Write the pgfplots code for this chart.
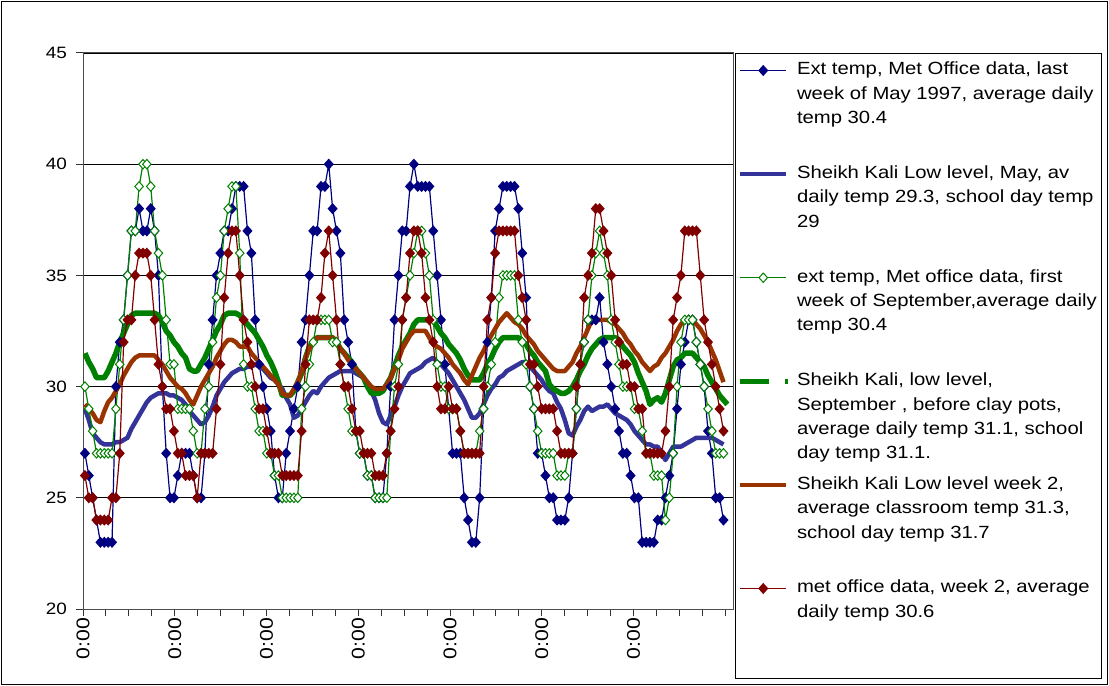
\documentclass[border=0pt]{standalone}
\usepackage{fontspec}
\setmainfont{Liberation Sans}[FakeStretch=1.15]
\usepackage{pgfplots}
\pgfplotsset{compat=1.18}
\definecolor{cBlue}{RGB}{0,0,128}
\definecolor{cPurple}{RGB}{51,51,153}
\definecolor{cGreen}{RGB}{0,128,0}
\definecolor{cOrange}{RGB}{153,51,0}
\definecolor{cRed}{RGB}{128,0,0}
\newcommand{\lent}[2]{\parbox[b][#1][t]{302bp}{\raggedright\fontsize{17.7}{24.5}\selectfont #2}}
\pgfplotsset{
 legmark/.style={legend image code/.code={\draw[mark repeat=2,mark phase=2,##1] plot coordinates {(0bp,#1) (23bp,#1) (46bp,#1)}; \path (0bp,-#1);}},
 legline/.style={legend image code/.code={\draw[##1] (0bp,#1) -- (46bp,#1); \path (0bp,-#1);}},
 leggap/.style={legend image code/.code={\draw[##1] (0bp,#1) -- (29bp,#1); \draw[##1] (45bp,#1) -- (48bp,#1); \path (0bp,-#1);}},
}
\begin{document}
\begin{tikzpicture}
\useasboundingbox (0bp,0bp) rectangle (1109bp,686bp);
\draw[black, line width=1bp] (1.5bp,1.5bp) rectangle (1107.5bp,684.5bp);
\begin{axis}[
 at={(83bp,77bp)}, anchor=south west,
 scale only axis, width=650bp, height=556bp,
 xmin=-0.5, xmax=167.46, ymin=20, ymax=45,
 ytick={20,25,...,45},
 xtick={-0.5,23.21,46.92,70.63,94.34,118.05,141.76},
 xticklabels={0:00,0:00,0:00,0:00,0:00,0:00,0:00},
 minor xtick={-0.5,5.428,...,166},
 tick align=outside, tick pos=left,
 major tick length=7bp, minor tick length=7bp,
 tick style={black!80, line width=1bp},
 ymajorgrids, grid style={black, line width=0.8bp},
 axis line style={black!70, line width=1bp},
 xticklabel style={rotate=90, anchor=east, inner sep=2bp, font=\fontsize{18.5}{22}\selectfont},
 yticklabel style={anchor=east, inner sep=0pt, xshift=-9bp, font=\fontsize{16.5}{20}\selectfont},
 /pgf/number format/assume math mode=true,
 legend style={at={(1,1)}, anchor=north west, xshift=2bp, draw=black, line width=1bp, fill=white,
   inner xsep=2bp, inner ysep=8.6bp, nodes={inner sep=0pt, text depth=0pt},
   cells={anchor=center}, column sep=6bp, row sep=0pt},
]
\addplot[cBlue, line width=1.2bp, mark=diamond*, mark size=4.7bp, mark options={xscale=1.2, fill=cBlue, solid}, legmark=43.4bp]
coordinates {(0,27)(1,26)(2,25)(3,24)(4,23)(5,23)(6,23)(7,23)(8,30)(9,32)(10,33)(11,35)(12,37)(13,37)(14,38)(15,37)(16,37)(17,38)(18,37)(19,35)(20,30)(21,27)(22,25)(23,25)
(24,26)(25,27)(26,27)(27,27)(28,26)(29,25)(30,25)(31,27)(32,31)(33,33)(34,35)(35,36)(36,37)(37,37)(38,38)(39,39)(40,39)(41,39)(42,37)(43,36)(44,33)(45,31)(46,30)(47,29)
(48,28)(49,26)(50,25)(51,25)(52,27)(53,28)(54,29)(55,30)(56,32)(57,33)(58,35)(59,37)(60,37)(61,39)(62,39)(63,40)(64,38)(65,37)(66,36)(67,33)(68,32)(69,31)(70,28)(71,27)
(72,27)(73,26)(74,26)(75,25)(76,25)(77,25)(78,27)(79,30)(80,33)(81,35)(82,37)(83,37)(84,39)(85,40)(86,39)(87,39)(88,39)(89,39)(90,37)(91,35)(92,33)(93,31)(94,29)(95,27)
(96,27)(97,27)(98,25)(99,24)(100,23)(101,23)(102,25)(103,29)(104,32)(105,34)(106,37)(107,38)(108,39)(109,39)(110,39)(111,39)(112,38)(113,36)(114,34)(115,30)(116,29)(117,27)(118,27)(119,26)
(120,25)(121,25)(122,24)(123,24)(124,24)(125,25)(126,27)(127,29)(128,31)(129,32)(130,33)(131,33)(132,33)(133,34)(134,32)(135,31)(136,30)(137,29)(138,28)(139,27)(140,27)(141,26)(142,25)(143,25)
(144,23)(145,23)(146,23)(147,23)(148,24)(149,24)(150,25)(151,26)(152,27)(153,29)(154,31)(155,32)(156,33)(157,33)(158,32)(159,31)(160,30)(161,28)(162,27)(163,25)(164,25)(165,24)};
\addlegendentry{\lent{103.6bp}{Ext temp, Met Office data, last\\week of May 1997, average daily\\temp 30.4}}
\addplot[cPurple, line width=4.5bp, line join=round, legline=43.4bp]
coordinates {(0,29.0)(1,28.5)(2,27.9)(3,27.7)(4,27.5)(5,27.4)(6,27.4)(7,27.4)(8,27.5)(9,27.5)(10,27.6)(11,27.7)(12,28.1)(13,28.4)(14,28.7)(15,29.0)(16,29.3)(17,29.5)(18,29.6)(19,29.7)(20,29.7)(21,29.7)(22,29.6)(23,29.6)
(24,29.5)(25,29.4)(26,29.2)(27,28.9)(28,28.7)(29,28.5)(30,28.3)(31,28.4)(32,28.7)(33,29.1)(34,29.6)(35,29.9)(36,30.2)(37,30.4)(38,30.6)(39,30.7)(40,30.8)(41,30.8)(42,30.9)(43,30.9)(44,31.0)(45,30.9)(46,30.8)(47,30.6)
(48,30.4)(49,30.3)(50,30.1)(51,29.9)(52,29.5)(53,29.2)(54,28.6)(55,28.7)(56,29.0)(57,29.3)(58,29.6)(59,29.8)(60,29.7)(61,30.0)(62,30.2)(63,30.4)(64,30.5)(65,30.6)(66,30.7)(67,30.7)(68,30.7)(69,30.7)(70,30.6)(71,30.5)
(72,30.4)(73,30.2)(74,29.8)(75,29.4)(76,28.8)(77,28.4)(78,28.3)(79,28.7)(80,29.1)(81,29.6)(82,30.0)(83,30.3)(84,30.6)(85,30.7)(86,30.8)(87,30.9)(88,31.1)(89,31.2)(90,31.3)(91,31.1)(92,31.0)(93,30.8)(94,30.6)(95,30.3)
(96,30.0)(97,29.7)(98,29.4)(99,29.0)(100,28.6)(101,28.6)(102,28.8)(103,29.2)(104,29.6)(105,29.9)(106,30.1)(107,30.4)(108,30.5)(109,30.7)(110,30.8)(111,30.9)(112,31.0)(113,31.1)(114,31.1)(115,30.9)(116,30.7)(117,30.5)(118,30.3)(119,30.0)
(120,29.8)(121,29.7)(122,29.3)(123,29.0)(124,28.5)(125,27.9)(126,27.8)(127,28.2)(128,28.5)(129,28.9)(130,29.1)(131,28.9)(132,29.0)(133,29.1)(134,29.1)(135,29.2)(136,29.0)(137,28.8)(138,28.7)(139,28.6)(140,28.5)(141,28.3)(142,28.0)(143,27.8)
(144,27.6)(145,27.4)(146,27.4)(147,27.3)(148,27.3)(149,27.0)(150,26.7)(151,27.0)(152,27.3)(153,27.3)(154,27.3)(155,27.4)(156,27.5)(157,27.6)(158,27.7)(159,27.7)(160,27.7)(161,27.7)(162,27.7)(163,27.6)(164,27.5)(165,27.4)};
\addlegendentry{\lent{103.6bp}{Sheikh Kali Low level, May, av\\daily temp 29.3, school day temp\\29}}
\addplot[cGreen, line width=1.2bp, mark=diamond*, mark size=4.7bp, mark options={xscale=1.2, fill=white, draw=cGreen, line width=1bp, solid}, legmark=43.4bp]
coordinates {(0,30)(1,29)(2,28)(3,27)(4,27)(5,27)(6,27)(7,27)(8,29)(9,31)(10,33)(11,35)(12,37)(13,37)(14,39)(15,40)(16,40)(17,39)(18,37)(19,36)(20,35)(21,33)(22,31)(23,31)
(24,29)(25,29)(26,29)(27,29)(28,28)(29,27)(30,27)(31,29)(32,30)(33,32)(34,34)(35,35)(36,37)(37,38)(38,39)(39,39)(40,36)(41,31)(42,30)(43,30)(44,29)(45,28)(46,28)(47,27)
(48,27)(49,26)(50,26)(51,25)(52,25)(53,25)(54,25)(55,25)(56,29)(57,30)(58,31)(59,32)(60,33)(61,33)(62,33)(63,33)(64,32)(65,32)(66,31)(67,30)(68,29)(69,28)(70,28)(71,27)
(72,27)(73,26)(74,26)(75,25)(76,25)(77,25)(78,25)(79,28)(80,30)(81,31)(82,33)(83,34)(84,35)(85,36)(86,37)(87,37)(88,36)(89,35)(90,33)(91,31)(92,30)(93,30)(94,29)(95,29)
(96,29)(97,28)(98,27)(99,27)(100,27)(101,27)(102,28)(103,29)(104,30)(105,31)(106,32)(107,34)(108,35)(109,35)(110,35)(111,35)(112,33)(113,32)(114,31)(115,30)(116,29)(117,28)(118,27)(119,27)
(120,27)(121,27)(122,26)(123,26)(124,26)(125,27)(126,27)(127,29)(128,31)(129,32)(130,33)(131,35)(132,36)(133,37)(134,36)(135,35)(136,33)(137,32)(138,31)(139,30)(140,30)(141,30)(142,29)(143,29)
(144,28)(145,27)(146,27)(147,26)(148,26)(149,26)(150,24)(151,25)(152,27)(153,30)(154,32)(155,33)(156,33)(157,33)(158,32)(159,31)(160,30)(161,29)(162,28)(163,27)(164,27)(165,27)};
\addlegendentry{\lent{103.6bp}{ext temp, Met office data, first\\week of September,average daily\\temp 30.4}}
\addplot[cGreen, line width=5.5bp, line join=round, leggap=43.4bp]
coordinates {(0,31.5)(1,31.1)(2,30.8)(3,30.4)(4,30.4)(5,30.4)(6,30.7)(7,31.1)(8,31.5)(9,32.0)(10,32.4)(11,32.8)(12,33.2)(13,33.3)(14,33.3)(15,33.3)(16,33.3)(17,33.3)(18,33.3)(19,33.2)(20,32.9)(21,32.5)(22,32.3)(23,32.0)
(24,31.8)(25,31.5)(26,31.3)(27,30.8)(28,30.7)(29,30.7)(30,31.0)(31,31.3)(32,31.7)(33,32.1)(34,32.5)(35,32.8)(36,33.2)(37,33.3)(38,33.3)(39,33.3)(40,33.2)(41,33.0)(42,32.8)(43,32.6)(44,32.4)(45,32.1)(46,31.8)(47,31.4)
(48,31.1)(49,30.7)(50,30.2)(51,29.6)(52,29.6)(53,29.6)(54,29.8)(55,30.2)(56,30.6)(57,31.3)(58,31.8)(59,32.0)(60,32.2)(61,32.2)(62,32.2)(63,32.2)(64,32.2)(65,32.0)(66,31.7)(67,31.5)(68,31.3)(69,31.1)(70,30.8)(71,30.6)
(72,30.4)(73,30.0)(74,29.7)(75,29.7)(76,29.7)(77,29.8)(78,30.1)(79,30.4)(80,30.9)(81,31.4)(82,31.8)(83,32.1)(84,32.4)(85,32.8)(86,33.0)(87,33.0)(88,33.0)(89,33.0)(90,33.0)(91,32.7)(92,32.4)(93,32.2)(94,31.9)(95,31.7)
(96,31.5)(97,31.2)(98,30.8)(99,30.5)(100,30.3)(101,30.3)(102,30.3)(103,30.6)(104,31.0)(105,31.3)(106,31.7)(107,32.0)(108,32.2)(109,32.2)(110,32.2)(111,32.2)(112,32.2)(113,32.0)(114,31.9)(115,31.6)(116,31.4)(117,31.1)(118,30.9)(119,30.7)
(120,30.1)(121,29.9)(122,29.8)(123,29.7)(124,29.7)(125,29.8)(126,30.0)(127,30.3)(128,30.7)(129,31.0)(130,31.4)(131,31.7)(132,31.9)(133,32.1)(134,32.2)(135,32.2)(136,32.2)(137,32.2)(138,32.1)(139,31.8)(140,31.6)(141,31.4)(142,31.1)(143,30.6)
(144,30.2)(145,29.8)(146,29.2)(147,29.4)(148,29.5)(149,29.3)(150,29.7)(151,30.3)(152,30.9)(153,31.2)(154,31.3)(155,31.5)(156,31.5)(157,31.5)(158,31.3)(159,31.1)(160,30.9)(161,30.5)(162,30.2)(163,29.9)(164,29.6)(165,29.4)(166,29.2)};
\addlegendentry{\lent{103.6bp}{Sheikh Kali, low level,\\September , before clay pots,\\average daily temp 31.1, school\\day temp 31.1.}}
\addplot[cOrange, line width=4.5bp, line join=round, legline=43.4bp]
coordinates {(0,29.2)(1,29.0)(2,28.8)(3,28.5)(4,28.4)(5,28.9)(6,29.3)(7,29.5)(8,29.8)(9,30.1)(10,30.5)(11,30.8)(12,31.1)(13,31.3)(14,31.4)(15,31.4)(16,31.4)(17,31.4)(18,31.4)(19,31.2)(20,31.0)(21,30.7)(22,30.4)(23,30.2)
(24,30.0)(25,29.9)(26,29.7)(27,29.4)(28,29.2)(29,29.6)(30,30.0)(31,30.3)(32,30.6)(33,30.9)(34,31.3)(35,31.6)(36,31.9)(37,32.1)(38,32.1)(39,32.0)(40,31.8)(41,31.8)(42,31.8)(43,31.5)(44,31.3)(45,31.1)(46,30.9)(47,30.7)
(48,30.5)(49,30.3)(50,30.1)(51,29.7)(52,29.6)(53,29.6)(54,29.9)(55,30.2)(56,30.7)(57,31.3)(58,31.7)(59,32.0)(60,32.2)(61,32.2)(62,32.2)(63,32.2)(64,32.2)(65,32.0)(66,31.7)(67,31.5)(68,31.2)(69,31.0)(70,30.8)(71,30.6)
(72,30.4)(73,30.2)(74,30.0)(75,29.9)(76,29.9)(77,29.9)(78,30.1)(79,30.4)(80,30.8)(81,31.2)(82,31.7)(83,32.0)(84,32.3)(85,32.5)(86,32.5)(87,32.5)(88,32.5)(89,32.2)(90,31.9)(91,31.8)(92,31.7)(93,31.5)(94,31.3)(95,31.0)
(96,30.8)(97,30.6)(98,30.3)(99,30.1)(100,30.5)(101,30.9)(102,31.3)(103,31.6)(104,32.0)(105,32.3)(106,32.6)(107,32.9)(108,33.1)(109,33.3)(110,33.1)(111,32.9)(112,32.8)(113,32.6)(114,32.3)(115,32.1)(116,31.9)(117,31.6)(118,31.4)(119,31.2)
(120,31.0)(121,30.8)(122,30.7)(123,30.7)(124,30.7)(125,30.9)(126,31.1)(127,31.5)(128,31.8)(129,32.2)(130,32.6)(131,33.0)(132,33.0)(133,33.0)(134,33.0)(135,33.0)(136,32.9)(137,32.8)(138,32.6)(139,32.4)(140,32.1)(141,31.9)(142,31.6)(143,31.4)
(144,31.1)(145,30.9)(146,30.7)(147,30.9)(148,31.0)(149,31.3)(150,31.5)(151,31.8)(152,32.1)(153,32.5)(154,32.8)(155,33.0)(156,33.0)(157,33.0)(158,32.8)(159,32.6)(160,32.3)(161,32.0)(162,31.6)(163,31.2)(164,30.7)(165,30.2)};
\addlegendentry{\lent{103.6bp}{Sheikh Kali Low level week 2,\\average classroom temp 31.3,\\school day temp 31.7}}
\addplot[cRed, line width=1.2bp, mark=diamond*, mark size=4.7bp, mark options={xscale=1.2, fill=cRed, solid}, legmark=36.5bp]
coordinates {(0,26)(1,25)(2,25)(3,24)(4,24)(5,24)(6,24)(7,25)(8,25)(9,27)(10,32)(11,33)(12,33)(13,35)(14,36)(15,36)(16,36)(17,35)(18,33)(19,31)(20,30)(21,29)(22,29)(23,28)
(24,27)(25,27)(26,26)(27,26)(28,26)(29,25)(30,27)(31,27)(32,27)(33,27)(34,29)(35,31)(36,34)(37,36)(38,37)(39,37)(40,35)(41,33)(42,32)(43,31)(44,30)(45,29)(46,29)(47,28)
(48,27)(49,27)(50,27)(51,26)(52,26)(53,26)(54,26)(55,26)(56,28)(57,31)(58,33)(59,33)(60,33)(61,34)(62,36)(63,37)(64,35)(65,33)(66,31)(67,30)(68,30)(69,29)(70,28)(71,28)
(72,27)(73,27)(74,27)(75,26)(76,26)(77,26)(78,27)(79,28)(80,29)(81,30)(82,33)(83,34)(84,36)(85,37)(86,37)(87,36)(88,34)(89,33)(90,32)(91,30)(92,29)(93,29)(94,30)(95,29)
(96,29)(97,28)(98,27)(99,27)(100,27)(101,27)(102,27)(103,30)(104,33)(105,34)(106,36)(107,37)(108,37)(109,37)(110,37)(111,37)(112,35)(113,34)(114,33)(115,31)(116,31)(117,30)(118,29)(119,29)
(120,29)(121,29)(122,28)(123,27)(124,27)(125,27)(126,27)(127,30)(128,31)(129,34)(130,35)(131,36)(132,38)(133,38)(134,37)(135,36)(136,35)(137,33)(138,32)(139,31)(140,31)(141,30)(142,30)(143,29)
(144,29)(145,27)(146,27)(147,27)(148,27)(149,27)(150,28)(151,30)(152,33)(153,34)(154,35)(155,37)(156,37)(157,37)(158,37)(159,35)(160,33)(161,32)(162,31)(163,30)(164,29)(165,28)};
\addlegendentry{\lent{89.8bp}{met office data, week 2, average\\daily temp 30.6}}
\end{axis}
\end{tikzpicture}
\end{document}
